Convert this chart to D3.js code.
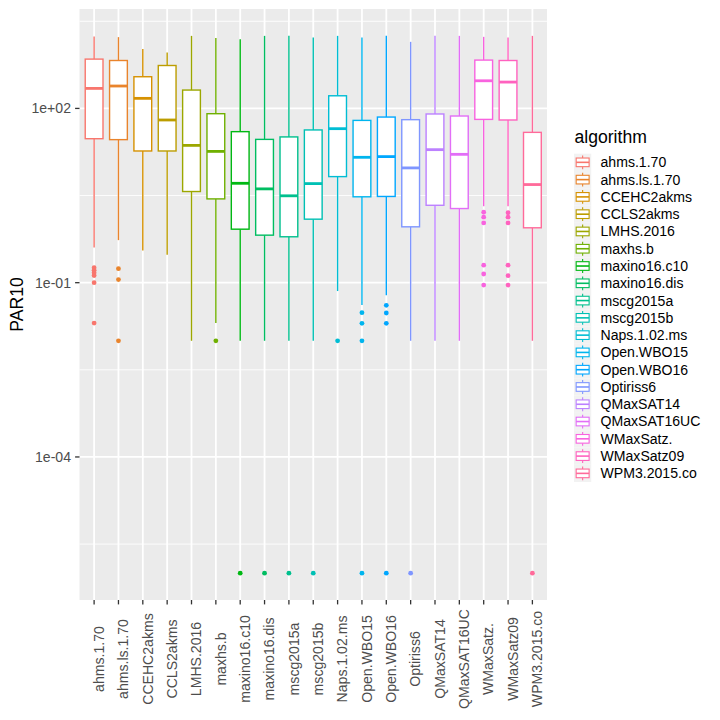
<!DOCTYPE html>
<html>
<head>
<meta charset="utf-8">
<script src="https://cdn.jsdelivr.net/npm/d3@7"></script>
<style>
  html, body { margin: 0; padding: 0; background: #fff; }
  text { font-family: "Liberation Sans", Arial, sans-serif; }
</style>
</head>
<body>
<svg id="chart" width="720" height="720"></svg>
<script>
// ---- Data ----
const algorithms = ["ahms.1.70","ahms.ls.1.70","CCEHC2akms","CCLS2akms","LMHS.2016","maxhs.b",
  "maxino16.c10","maxino16.dis","mscg2015a","mscg2015b","Naps.1.02.ms","Open.WBO15","Open.WBO16",
  "Optiriss6","QMaxSAT14","QMaxSAT16UC","WMaxSatz.","WMaxSatz09","WPM3.2015.co"];
const whiskerLow = [0.405,0.54,0.359,0.303,0.01,0.0202,0.01,0.01,0.01,0.01,0.0718,0.0412,0.0605,0.01,0.01,0.01,2.07,2.07,0.01];
const q1         = [30.1,29,18.5,18.5,3.71,2.77,0.834,0.658,0.617,1.24,6.7,3.01,3.05,0.916,2.15,1.89,64.7,63.2,0.881];
const medians    = [221,243,149,63.2,23.1,18.2,5.14,4.12,3.13,5.08,44.8,14.4,14.8,9.46,19.5,16.2,299,284,4.89];
const q3         = [706,668,351,548,207,81.1,39.8,29.3,32.3,42.6,165,62.2,71,64,80.2,74,679,668,38.7];
const whiskerHigh= [1726,1687,1050,916,1774,1622,1556,1774,1774,1660,1774,1660,1774,1400,1774,1774,1706,1660,1774];
const outliers   = [
  [0.181,0.164,0.149,0.133,0.1,0.0202],
  [0.174,0.113,0.01],
  [], [], [],
  [0.01],
  [1e-6],[1e-6],[1e-6],[1e-6],
  [0.01],
  [0.0305,0.02,0.01,1e-6],
  [0.0407,0.0301,0.02,1e-6],
  [1e-6], [], [],
  [1.63,1.34,1.07,0.2,0.141,0.091],
  [1.6,1.34,1.07,0.2,0.132,0.091],
  [1e-6]
];
const yMajorTicks = [1e-4, 1e-1, 1e2];
const yTickLabels = ["1e-04", "1e-01", "1e+02"];
const yMinorTicks = [Math.pow(10,-5.5), Math.pow(10,-2.5), Math.pow(10,0.5), Math.pow(10,3.5)];

// ---- ggplot hue palette (polar LUV -> sRGB) ----
function hclLuv(h, c, l) {
  const Xn = 95.047, Yn = 100, Zn = 108.883;
  const hr = h * Math.PI / 180;
  const U = c * Math.cos(hr), V = c * Math.sin(hr);
  const Y = l > 8 ? Yn * Math.pow((l + 16) / 116, 3) : Yn * l / 903.3;
  const t = Xn + 15 * Yn + 3 * Zn;
  const un = 4 * Xn / t, vn = 9 * Yn / t;
  const up = U / (13 * l) + un, vp = V / (13 * l) + vn;
  const X = 9 * Y * up / (4 * vp);
  const Z = -X / 3 - 5 * Y + 3 * Y / vp;
  const x = X / 100, y = Y / 100, z = Z / 100;
  const lin = [
    3.240479 * x - 1.537150 * y - 0.498535 * z,
    -0.969256 * x + 1.875992 * y + 0.041556 * z,
    0.055648 * x - 0.204043 * y + 1.057311 * z
  ];
  const g = lin.map(v => {
    const s = v <= 0.0031308 ? 12.92 * v : 1.055 * Math.pow(v, 1 / 2.4) - 0.055;
    return Math.round(Math.max(0, Math.min(1, s)) * 255);
  });
  return d3.rgb(g[0], g[1], g[2]).formatHex();
}
const n = algorithms.length;
const colors = d3.range(n).map(i => hclLuv(15 + 360 * i / n, 100, 65));
const color = d3.scaleOrdinal().domain(algorithms).range(colors);

// ---- Layout ----
const svg = d3.select("#chart");
const P = { left: 79.5, right: 547, top: 9, bottom: 600 };

const x = d3.scalePoint().domain(algorithms).range([P.left, P.right]).padding(0.6);
const step = x.step();
const boxW = step * 0.73;

const allVals = whiskerLow.concat(whiskerHigh, outliers.flat());
const lmin = Math.log10(d3.min(allVals)), lmax = Math.log10(d3.max(allVals));
const pad = (lmax - lmin) * 0.05;
const y = d3.scaleLog().domain([Math.pow(10, lmin - pad), Math.pow(10, lmax + pad)]).range([P.bottom, P.top]);

// panel
svg.append("rect").attr("x", P.left).attr("y", P.top)
  .attr("width", P.right - P.left).attr("height", P.bottom - P.top).attr("fill", "#ebebeb");

const grid = svg.append("g");
grid.selectAll("line.minor").data(yMinorTicks).join("line")
  .attr("x1", P.left).attr("x2", P.right)
  .attr("y1", d => y(d)).attr("y2", d => y(d))
  .attr("stroke", "#fff").attr("stroke-width", 0.9);
grid.selectAll("line.major").data(yMajorTicks).join("line")
  .attr("x1", P.left).attr("x2", P.right)
  .attr("y1", d => y(d)).attr("y2", d => y(d))
  .attr("stroke", "#fff").attr("stroke-width", 1.8);
grid.selectAll("line.vx").data(algorithms).join("line")
  .attr("x1", d => x(d)).attr("x2", d => x(d))
  .attr("y1", P.top).attr("y2", P.bottom)
  .attr("stroke", "#fff").attr("stroke-width", 1.8);

// boxplots
const data = algorithms.map((a, i) => ({
  a, lo: whiskerLow[i], q1: q1[i], med: medians[i], q3: q3[i], hi: whiskerHigh[i], out: outliers[i]
}));
const g = svg.append("g").selectAll("g").data(data).join("g");
g.append("line").attr("x1", d => x(d.a)).attr("x2", d => x(d.a))
  .attr("y1", d => y(d.q3)).attr("y2", d => y(d.hi))
  .attr("stroke", d => color(d.a)).attr("stroke-width", 1.4);
g.append("line").attr("x1", d => x(d.a)).attr("x2", d => x(d.a))
  .attr("y1", d => y(d.q1)).attr("y2", d => y(d.lo))
  .attr("stroke", d => color(d.a)).attr("stroke-width", 1.4);
g.append("rect").attr("x", d => x(d.a) - boxW / 2).attr("width", boxW)
  .attr("y", d => y(d.q3)).attr("height", d => y(d.q1) - y(d.q3))
  .attr("fill", "#fff").attr("stroke", d => color(d.a)).attr("stroke-width", 1.4);
g.append("line").attr("x1", d => x(d.a) - boxW / 2).attr("x2", d => x(d.a) + boxW / 2)
  .attr("y1", d => y(d.med)).attr("y2", d => y(d.med))
  .attr("stroke", d => color(d.a)).attr("stroke-width", 2.8);
g.each(function(d) {
  d3.select(this).selectAll("circle").data(d.out).join("circle")
    .attr("cx", x(d.a)).attr("cy", v => y(v)).attr("r", 2.4)
    .attr("fill", color(d.a));
});

// y axis
const yAxis = svg.append("g");
yAxis.selectAll("line").data(yMajorTicks).join("line")
  .attr("x1", P.left - 4.4).attr("x2", P.left)
  .attr("y1", d => y(d)).attr("y2", d => y(d))
  .attr("stroke", "#333").attr("stroke-width", 1.3);
yAxis.selectAll("text").data(yMajorTicks).join("text")
  .attr("x", P.left - 8.5).attr("y", d => y(d)).attr("dy", "0.35em")
  .attr("text-anchor", "end").attr("font-size", 14.08).attr("fill", "#4d4d4d")
  .text((d, i) => yTickLabels[i]);

// x axis
const xAxis = svg.append("g");
xAxis.selectAll("line").data(algorithms).join("line")
  .attr("x1", d => x(d)).attr("x2", d => x(d))
  .attr("y1", P.bottom).attr("y2", P.bottom + 4.4)
  .attr("stroke", "#333").attr("stroke-width", 1.3);
xAxis.selectAll("text").data(algorithms).join("text")
  .attr("transform", d => `translate(${x(d) + 9.8},659) rotate(-90)`)
  .attr("text-anchor", "middle").attr("font-size", 14.08).attr("fill", "#4d4d4d")
  .text(d => d);

// y title
svg.append("text").attr("transform", `translate(22.5,${(P.top + P.bottom) / 2}) rotate(-90)`)
  .attr("text-anchor", "middle").attr("font-size", 17.6).attr("fill", "#000").text("PAR10");

// legend
const L = svg.append("g").attr("transform", "translate(574,0)");
L.append("text").attr("x", 0.5).attr("y", 142.5).attr("font-size", 17.6).attr("fill", "#000").text("algorithm");
const ks = 17.28, top0 = 153.7;
const items = L.selectAll("g.item").data(algorithms).join("g")
  .attr("transform", (d, i) => `translate(0,${top0 + i * ks})`);
items.append("rect").attr("width", ks).attr("height", ks).attr("fill", "#f2f2f2");
items.append("line").attr("x1", ks / 2).attr("x2", ks / 2).attr("y1", ks * 0.1).attr("y2", ks * 0.25)
  .attr("stroke", d => color(d)).attr("stroke-width", 1.1);
items.append("line").attr("x1", ks / 2).attr("x2", ks / 2).attr("y1", ks * 0.75).attr("y2", ks * 0.9)
  .attr("stroke", d => color(d)).attr("stroke-width", 1.1);
items.append("rect").attr("x", ks * 0.125).attr("y", ks * 0.25)
  .attr("width", ks * 0.75).attr("height", ks * 0.5)
  .attr("fill", "#fff").attr("stroke", d => color(d)).attr("stroke-width", 1.1);
items.append("line").attr("x1", ks * 0.125).attr("x2", ks * 0.875).attr("y1", ks / 2).attr("y2", ks / 2)
  .attr("stroke", d => color(d)).attr("stroke-width", 1.6);
items.append("text").attr("x", 26.5).attr("y", ks / 2).attr("dy", "0.35em")
  .attr("font-size", 14.08).attr("fill", "#000").text(d => d);
</script>
</body>
</html>
